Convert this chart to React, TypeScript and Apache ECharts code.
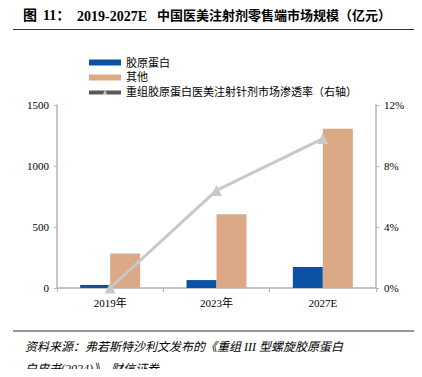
import React, { useEffect, useRef } from "react";
import * as echarts from "echarts";

const categories = ["2019年", "2023年", "2027E"];
const collagen = [25, 65, 172];
const others = [282, 605, 1305];
const penetration = [0.0, 6.4, 9.8];
const leftTicks = [0, 500, 1000, 1500];
const rightTicks = [0, 4, 8, 12];

const SERIF = "'Liberation Serif', 'Times New Roman', 'Noto Sans CJK SC', serif";

export default function App() {
  const ref = useRef<HTMLDivElement>(null);
  useEffect(() => {
    const chart = echarts.init(ref.current!, null, { renderer: "svg" });
    const titleStyle = (text: string, size: number) => ({
      text,
      fontFamily: SERIF,
      fontWeight: "bold",
      fontSize: size,
      fill: "#000",
    });
    chart.setOption({
      animation: false,
      backgroundColor: "#ffffff",
      textStyle: { fontFamily: SERIF },
      graphic: [
        { type: "text", left: 23, top: 8, style: titleStyle("图", 14) },
        { type: "text", left: 43, top: 8, style: titleStyle("11：", 14) },
        { type: "text", left: 77, top: 9, style: titleStyle("2019-2027E", 14) },
        { type: "text", left: 157, top: 9, style: titleStyle("中国医美注射剂零售端市场规模（亿元）", 13) },
        { type: "line", shape: { x1: 13, y1: 29.5, x2: 420, y2: 29.5 }, style: { stroke: "#333", lineWidth: 1 } },
        { type: "line", shape: { x1: 13, y1: 331, x2: 420, y2: 331 }, style: { stroke: "#333", lineWidth: 1 } },
        {
          type: "text",
          left: 25,
          top: 341,
          style: {
            text: "资料来源：弗若斯特沙利文发布的《重组 III 型螺旋胶原蛋白",
            fontFamily: SERIF,
            fontStyle: "italic",
            fontSize: 12,
            fill: "#000",
          },
        },
        {
          type: "text",
          left: 25,
          top: 363,
          style: {
            text: "白皮书(2024)》，财信证券",
            fontFamily: SERIF,
            fontStyle: "italic",
            fontSize: 12,
            fill: "#000",
          },
        },
      ],
      legend: {
        orient: "vertical",
        left: 82,
        top: 52,
        itemWidth: 32,
        itemHeight: 6,
        itemGap: 4,
        textStyle: { fontSize: 11, color: "#000", fontFamily: SERIF },
        data: [
          { name: "胶原蛋白", icon: "rect" },
          { name: "其他", icon: "rect" },
          {
            name: "重组胶原蛋白医美注射针剂市场渗透率（右轴）",
            itemStyle: { color: "#c8c8c8" },
            lineStyle: { color: "#595959", width: 4 },
          },
        ],
      },
      grid: { left: 57, right: 46, top: 105, bottom: 89 },
      xAxis: {
        type: "category",
        data: categories,
        axisLine: { lineStyle: { color: "#b4b4b4", width: 1.5 } },
        axisTick: { show: true, length: 4, lineStyle: { color: "#b4b4b4" } },
        axisLabel: { color: "#000", fontSize: 11, margin: 9, fontFamily: SERIF },
      },
      yAxis: [
        {
          type: "value",
          min: leftTicks[0],
          max: leftTicks[leftTicks.length - 1],
          interval: 500,
          axisLine: { show: true, lineStyle: { color: "#b4b4b4", width: 1.5 } },
          axisTick: { show: true, length: 3, lineStyle: { color: "#b4b4b4" } },
          splitLine: { show: false },
          axisLabel: {
            color: "#000",
            fontSize: 11,
            margin: 8,
            fontFamily: SERIF,
            formatter: (v: number) => String(v),
          },
        },
        {
          type: "value",
          min: rightTicks[0],
          max: rightTicks[rightTicks.length - 1],
          interval: 4,
          position: "right",
          axisLine: { show: true, lineStyle: { color: "#b4b4b4", width: 1.5 } },
          axisTick: { show: true, length: 3, lineStyle: { color: "#b4b4b4" } },
          splitLine: { show: false },
          axisLabel: { color: "#000", fontSize: 11, margin: 8, formatter: "{value}%", fontFamily: SERIF },
        },
      ],
      series: [
        {
          name: "胶原蛋白",
          type: "bar",
          data: collagen,
          barWidth: 30,
          barGap: "0%",
          itemStyle: { color: "#0b52a6" },
        },
        {
          name: "其他",
          type: "bar",
          data: others,
          barWidth: 30,
          barGap: "0%",
          itemStyle: { color: "#dba985" },
        },
        {
          name: "重组胶原蛋白医美注射针剂市场渗透率（右轴）",
          type: "line",
          yAxisIndex: 1,
          data: penetration,
          symbol: "triangle",
          symbolSize: 11,
          lineStyle: { color: "#c8c8c8", width: 3 },
          itemStyle: { color: "#c8c8c8" },
        },
      ],
    });
    return () => chart.dispose();
  }, []);
  return <div ref={ref} style={{ width: 422, height: 377, margin: -8 }} />;
}
